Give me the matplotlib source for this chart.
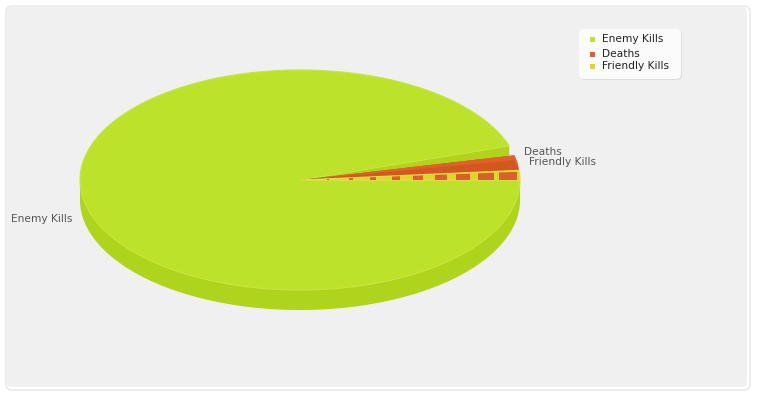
import numpy as np
import matplotlib
matplotlib.use('Agg')
import matplotlib.pyplot as plt
from matplotlib.patches import FancyBboxPatch, Polygon, Rectangle

categories = ['Enemy Kills', 'Deaths', 'Friendly Kills']
values = [95.0, 3.6, 1.4]
colours = ['#bce22a', '#e2612a', '#e2d42a']
wall_colours = ['#aed41c', '#d2581f', '#d6c81f']

cx, cy = 300, 180
rx, ry = 220, 110
depth = 20

# the deaths slice is drawn a bit short of the green slice, the notch shows green wall
deaths_short = 5

spans = np.array(values) / sum(values) * 360
friendly_end = spans[2]
deaths_end = friendly_end + spans[1]


def rim(a, b, n=200):
    t = np.radians(np.linspace(a, b, n))
    return cx + rx * np.cos(t), cy - ry * np.sin(t)


def wedge(a, b, dy=0):
    x, y = rim(a, b)
    return np.column_stack([np.r_[cx, x], np.r_[cy, y] + dy])


fig = plt.figure(figsize=(7.6, 4), dpi=100)
ax = fig.add_axes([0, 0, 1, 1])
ax.set_xlim(0, 760)
ax.set_ylim(400, 0)
ax.axis('off')

# frame
ax.add_patch(FancyBboxPatch((9, 9), 738, 378, boxstyle='round,pad=3,rounding_size=6',
                            fc='white', ec='#e6e6e6', lw=1))
ax.add_patch(FancyBboxPatch((10, 10), 734, 374, boxstyle='round,pad=3,rounding_size=5',
                            fc='#f0f0f0', ec='none'))

# outer wall of the pie
x, y = rim(180, 360)
ax.fill(np.r_[x, x[::-1]], np.r_[y, y[::-1] + depth], color=wall_colours[0], lw=0, zorder=2)

# wall of the green slice start
px, py = rim(deaths_end, deaths_end, 1)
ax.add_patch(Polygon([(cx, cy), (px[0], py[0]), (px[0], py[0] + depth), (cx, cy + depth)],
                     fc=wall_colours[0], ec='none', zorder=3))

# green top
ax.add_patch(Polygon(wedge(deaths_end, 360), fc=colours[0], ec='#c6e63e', lw=0.8, zorder=4))

# deaths
d_top = deaths_end - deaths_short
ax.add_patch(Polygon(wedge(friendly_end, d_top), fc=wall_colours[1], ec='none', zorder=5))
x, y = rim(friendly_end + 2.2, d_top)
ax.add_patch(Polygon(np.column_stack([np.r_[cx, x], np.r_[cy, y]]), fc=colours[1], ec='none', zorder=5))
x0, y0 = rim(friendly_end, friendly_end, 1)
x1, y1 = rim(d_top, d_top, 1)
ax.add_patch(Polygon([(cx, cy), (x1[0], y1[0] + 5), (x0[0], y0[0] + 6), (cx, cy)],
                     fc=wall_colours[1], ec='none', zorder=5))

# friendly, a thin yellow wedge with the orange showing through in stripes
ax.add_patch(Polygon(wedge(0, friendly_end), fc=colours[2], ec='#e8dc50', lw=0.8, zorder=6))
n = 9
for i in range(n):
    sx = 327 + i * 21.5
    sw = 2 + i * 2
    bar = Rectangle((sx, cy - 12), sw, 12, fc='#d9602a', ec='none', zorder=7)
    ax.add_patch(bar)
    inner = Polygon(wedge(0, friendly_end * 0.85), fc='none', ec='none')
    ax.add_patch(inner)
    bar.set_clip_path(inner)

# labels
ax.text(524, 152, categories[1], fontsize=7.7, color='#555555', va='center', ha='left', zorder=8)
ax.text(529, 162, categories[2], fontsize=7.7, color='#555555', va='center', ha='left', zorder=8)
ax.text(11, 219, categories[0], fontsize=7.7, color='#555555', va='center', ha='left', zorder=8)

# legend
ax.add_patch(FancyBboxPatch((583, 33), 96, 44, boxstyle='round,pad=3,rounding_size=5',
                            fc='#dedede', ec='none', zorder=8))
ax.add_patch(FancyBboxPatch((582, 32), 96, 44, boxstyle='round,pad=3,rounding_size=5',
                            fc='#fbfbfb', ec='none', zorder=9))
legend_y = [39, 54, 66]
for cat, col, ly in zip(categories, colours, legend_y):
    ax.add_patch(Rectangle((590, ly - 2.5), 5, 5, fc=col, ec='none', zorder=10))
    ax.text(602, ly, cat, fontsize=7.7, color='#222222', va='center', ha='left', zorder=10)

fig.savefig('out.png', dpi=100)
